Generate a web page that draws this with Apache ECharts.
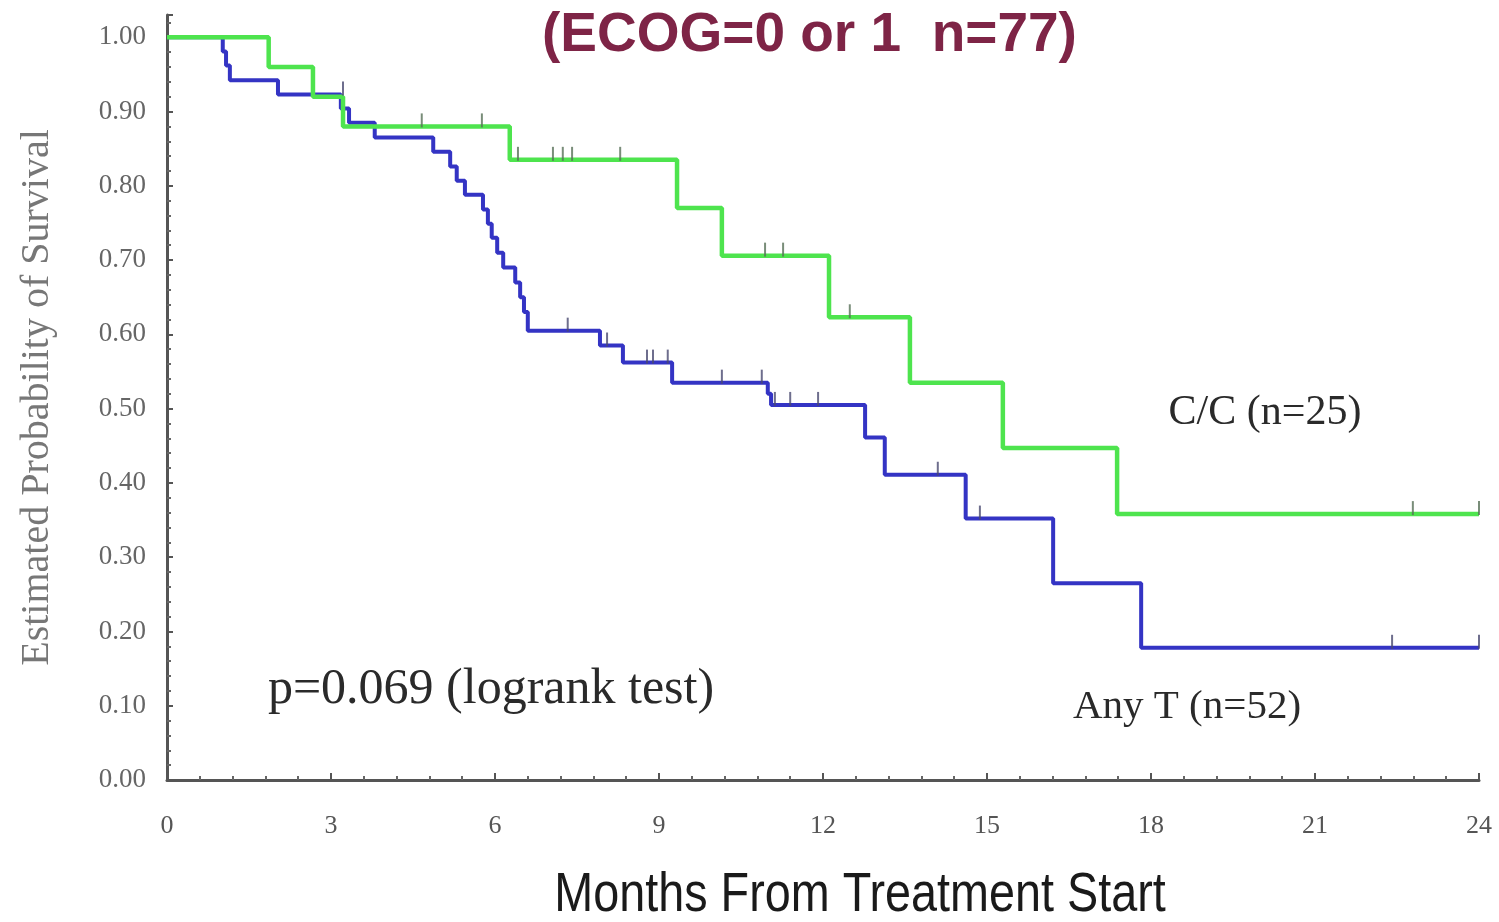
<!DOCTYPE html>
<html>
<head>
<meta charset="utf-8">
<title>Survival (ECOG=0 or 1)</title>
<script src="https://cdn.jsdelivr.net/npm/echarts@6/dist/echarts.min.js"></script>
<style>
  html, body { margin: 0; padding: 0; background: #fff; overflow: hidden; }
  #chart { width: 1499px; height: 922px; }
</style>
</head>
<body>
<div id="chart"></div>
<script>
  // C/C (n=25) - step curve, months / survival
  var ccTimes = [0, 1.86, 2.67, 3.22, 6.27, 9.33, 10.15, 12.11, 13.59, 15.29, 17.38, 24]
  var ccSurv  = [1.0, 0.96, 0.92, 0.88, 0.835, 0.77, 0.706, 0.623, 0.535, 0.447, 0.358, 0.358]
  // censored C/C
  var ccCensorTimes = [4.66, 5.76, 6.42, 7.06, 7.24, 7.41, 8.29, 10.94, 11.27, 12.49, 22.79, 24]
  var ccCensorSurv  = [0.88, 0.88, 0.835, 0.835, 0.835, 0.835, 0.835, 0.706, 0.706, 0.623, 0.358, 0.358]

  // Any T (n=52)
  var anyTimes = [0, 1.02, 1.08, 1.15, 2.03, 3.18, 3.33, 3.8, 4.87, 5.18, 5.3, 5.45, 5.78, 5.87, 5.94, 6.04,
    6.15, 6.37, 6.46, 6.53, 6.6, 7.92, 8.34, 9.24, 10.99, 11.05, 12.77, 13.13, 14.61, 16.21, 17.82, 24]
  var anySurv = [1.0, 0.981, 0.962, 0.942, 0.923, 0.904, 0.885, 0.865, 0.846, 0.826, 0.807, 0.788, 0.768, 0.749, 0.73, 0.71,
    0.69, 0.67, 0.65, 0.63, 0.605, 0.585, 0.562, 0.535, 0.52, 0.505, 0.461, 0.411, 0.352, 0.265, 0.178, 0.178]
  // censored Any T
  var anyCensorTimes = [3.22, 7.33, 8.05, 8.78, 8.89, 9.16, 10.15, 10.88, 11.12, 11.4, 11.91, 14.1, 14.87, 22.41, 24]
  var anyCensorSurv  = [0.923, 0.605, 0.585, 0.562, 0.562, 0.562, 0.535, 0.535, 0.505, 0.505, 0.505, 0.411, 0.352, 0.178, 0.178]

  var xTicks = [0, 3, 6, 9, 12, 15, 18, 21, 24]

  function pairs(xs, ys) {
    return xs.map(function (x, i) { return [x, ys[i]] })
  }

  var chart = echarts.init(document.getElementById('chart'))

  chart.setOption({
    animation: false,
    backgroundColor: '#fff',
    grid: { left: 167, right: 20, top: 15, bottom: 142, containLabel: false },
    xAxis: {
      type: 'value',
      min: xTicks[0],
      max: xTicks[xTicks.length - 1],
      interval: 3,
      splitLine: { show: false },
      axisLine: { lineStyle: { color: '#555', width: 3 } },
      axisTick: { inside: true, length: 7, lineStyle: { color: '#555', width: 2 } },
      minorTick: { show: true, splitNumber: 5, length: 4, lineStyle: { color: '#666', width: 2 } },
      axisLabel: {
        margin: 33,
        fontFamily: "'Liberation Serif', serif",
        fontSize: 26,
        color: '#555'
      }
    },
    yAxis: {
      type: 'value',
      min: 0,
      max: 1.03,
      interval: 0.1,
      name: 'Estimated Probability of Survival',
      nameLocation: 'middle',
      nameGap: 110,
      nameTextStyle: {
        fontFamily: "'Liberation Serif', serif",
        fontSize: 40,
        color: '#777'
      },
      splitLine: { show: false },
      axisLine: { show: true, lineStyle: { color: '#555', width: 3 } },
      axisTick: { inside: true, length: 6, lineStyle: { color: '#555', width: 2 } },
      minorTick: { show: true, splitNumber: 5, length: 4, lineStyle: { color: '#666', width: 2 } },
      axisLabel: {
        margin: 21,
        fontFamily: "'Liberation Serif', serif",
        fontSize: 27,
        color: '#666',
        formatter: function (v) { return v > 1.0001 ? '' : v.toFixed(2) }
      }
    },
    series: [
      {
        name: 'Any T (n=52)',
        type: 'line',
        step: 'end',
        showSymbol: false,
        data: pairs(anyTimes, anySurv),
        lineStyle: { color: '#3434c4', width: 4 },
        z: 2
      },
      {
        name: 'C/C (n=25)',
        type: 'line',
        step: 'end',
        showSymbol: false,
        data: pairs(ccTimes, ccSurv),
        lineStyle: { color: '#4ee44e', width: 4.5 },
        z: 3
      },
      {
        name: 'Any T censored',
        type: 'scatter',
        data: pairs(anyCensorTimes, anyCensorSurv),
        symbol: 'rect',
        symbolSize: [2, 14],
        symbolOffset: [0, -6],
        itemStyle: { color: '#4a4a70' },
        z: 4
      },
      {
        name: 'C/C censored',
        type: 'scatter',
        data: pairs(ccCensorTimes, ccCensorSurv),
        symbol: 'rect',
        symbolSize: [2, 14],
        symbolOffset: [0, -6],
        itemStyle: { color: '#587058' },
        z: 4
      }
    ],
    graphic: [
      {
        type: 'text', left: 542, top: 8,
        style: {
          text: '(ECOG=0 or 1  n=77)',
          font: "bold 55px 'Liberation Sans', Arial, sans-serif",
          fill: '#7e2446'
        }
      },
      {
        // x axis title, narrowed like the original condensed face
        type: 'text', x: 860, y: 896, scaleX: 0.85,
        style: {
          text: 'Months From Treatment Start', align: 'center', verticalAlign: 'middle',
          font: "55px 'Liberation Sans', Arial, sans-serif", fill: '#1a1a1a'
        }
      },
      {
        type: 'text', x: 1265, y: 413,
        style: {
          text: 'C/C (n=25)', align: 'center', verticalAlign: 'middle',
          font: "42px 'Liberation Serif', serif", fill: '#2a2a2a'
        }
      },
      {
        type: 'text', x: 1187, y: 707,
        style: {
          text: 'Any T (n=52)', align: 'center', verticalAlign: 'middle',
          font: "41px 'Liberation Serif', serif", fill: '#2a2a2a'
        }
      },
      {
        type: 'text', x: 491, y: 690,
        style: {
          text: 'p=0.069 (logrank test)', align: 'center', verticalAlign: 'middle',
          font: "50px 'Liberation Serif', serif", fill: '#2a2a2a'
        }
      }
    ]
  })
</script>
</body>
</html>
